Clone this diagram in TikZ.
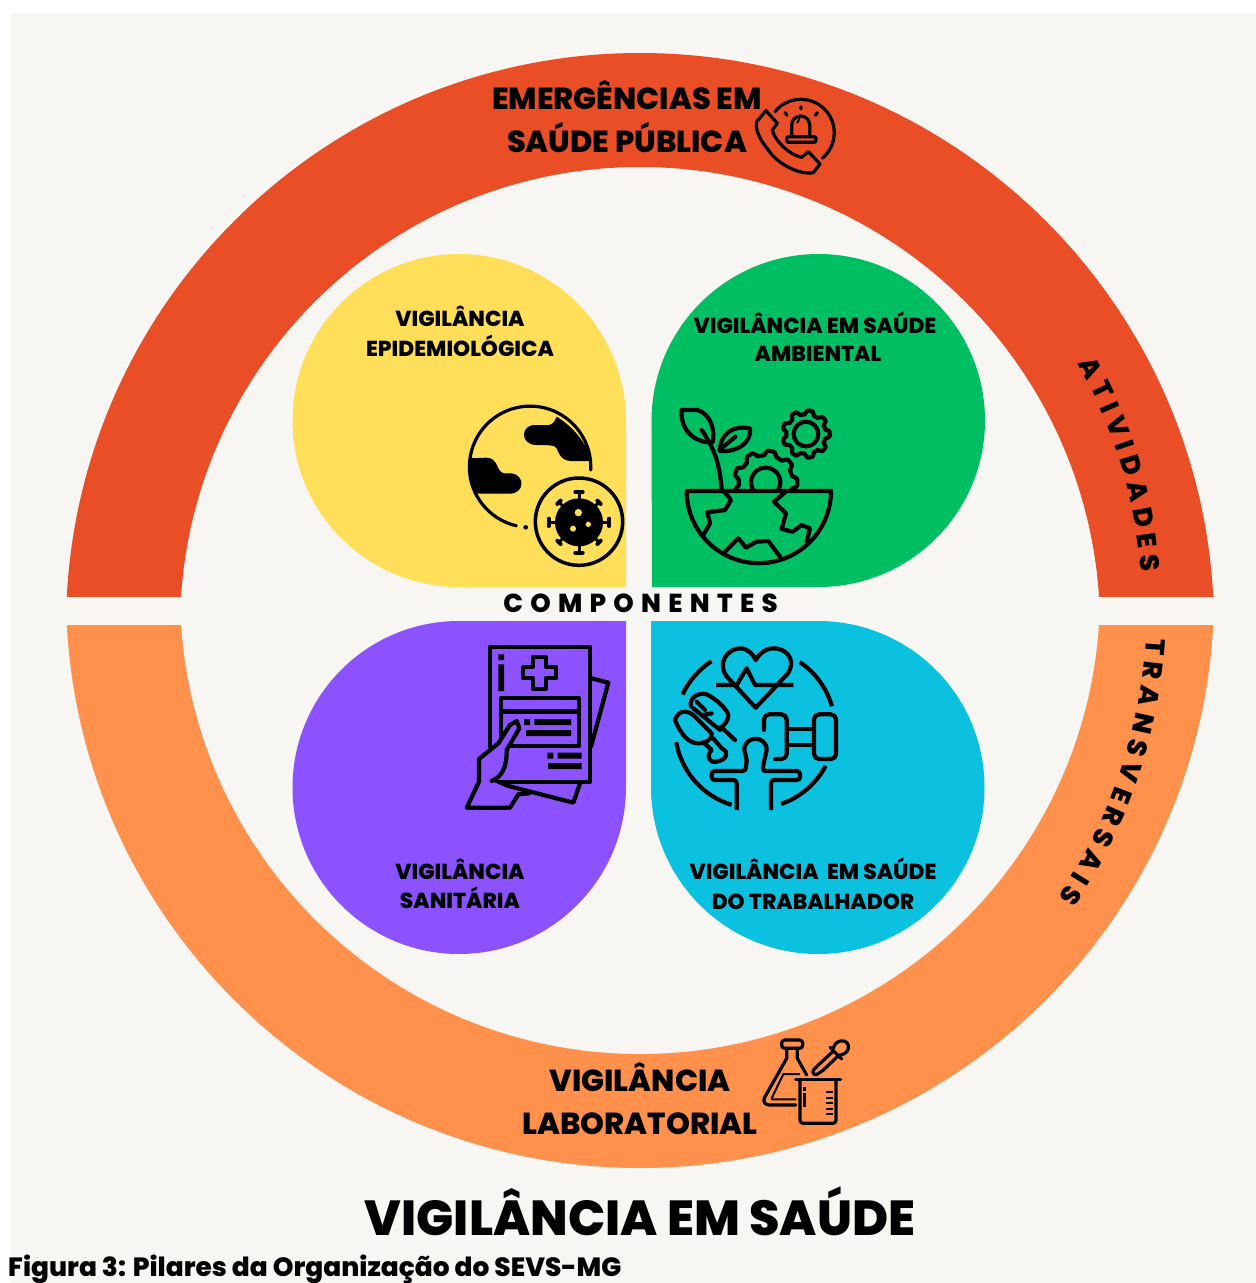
\documentclass[tikz,border=0pt]{standalone}
\usepackage{fontspec}
\setmainfont{Poppins}[BoldFont={Poppins ExtraBold}]
\usetikzlibrary{decorations.text}
\definecolor{panelbg}{HTML}{F8F6F2}
\definecolor{emergred}{HTML}{E94E26}
\definecolor{laborange}{HTML}{FF914D}
\definecolor{epiyellow}{HTML}{FFDE59}
\definecolor{ambgreen}{HTML}{00BF63}
\definecolor{sanpurple}{HTML}{8C52FF}
\definecolor{trabblue}{HTML}{0CC0DF}
\newfontfamily\spacedfont[LetterSpace=28,BoldFont={Poppins ExtraBold}]{Poppins}
\tikzset{
  ringlabel/.style={font=\fontsize{30.4}{30.4}\selectfont\bfseries, anchor=base},
  petallabel/.style={font=\fontsize{21.7}{21.7}\selectfont\bfseries, anchor=base},
  icon/.style={line width=3.2, line cap=round, line join=round, draw=black},
  iconbold/.style={line width=4.2, line cap=round, line join=round, draw=black},
  iconthin/.style={line width=2, line cap=round, line join=round, draw=black},
}
\newcommand{\gearwave}[5]{% x, y, radius, depth, teeth
  plot[domain=0:360, samples=217] ({#1+(#3+#4*max(-1,min(1,1.8*cos(#5*\x))))*cos(\x)}, {#2+(#3+#4*max(-1,min(1,1.8*cos(#5*\x))))*sin(\x)})}
\begin{document}
\begin{tikzpicture}[x=1pt,y=-1pt]
\useasboundingbox (0,0) rectangle (1256,1283);
\fill[panelbg] (11,13) rectangle (1256,1283);

% outer rings
\begin{scope}
\clip (0,0) rectangle (1256,596);
\fill[emergred, even odd rule] (640,627) circle (574) (640,627) circle (460);
\end{scope}
\begin{scope}
\clip (0,625) rectangle (1256,1283);
\fill[laborange, even odd rule] (640,594) circle (574) (640,594) circle (460);
\end{scope}

% petals
\fill[epiyellow] (626,587) -- (459,587) arc[start angle=90,end angle=270,radius=166.5] arc[start angle=-90,end angle=0,radius=167] -- cycle;
\fill[ambgreen] (652,587) -- (818.5,587) arc[start angle=90,end angle=-90,radius=166.5] arc[start angle=270,end angle=180,radius=167] -- cycle;
\fill[sanpurple] (626,621) -- (459,621) arc[start angle=-90,end angle=-270,radius=166.5] arc[start angle=90,end angle=0,radius=167] -- cycle;
\fill[trabblue] (651,621) -- (818,621) arc[start angle=-90,end angle=90,radius=166.5] arc[start angle=90,end angle=180,radius=167] -- cycle;

% texts
\node[ringlabel] (emerg1) at (627,109) {EMERGÊNCIAS EM};
\node[ringlabel] (emerg2) at (627,152) {SAÚDE PÚBLICA};
\node[ringlabel] (lab1) at (640,1091) {VIGILÂNCIA};
\node[ringlabel] (lab2) at (640,1134) {LABORATORIAL};
\node[petallabel] (epi1) at (460,326) {VIGILÂNCIA};
\node[petallabel] (epi2) at (460,356) {EPIDEMIOLÓGICA};
\node[petallabel] (amb1) at (815,333) {VIGILÂNCIA EM SAÚDE};
\node[petallabel] (amb2) at (818,361) {AMBIENTAL};
\node[petallabel] (san1) at (460,879) {VIGILÂNCIA};
\node[petallabel] (san2) at (460,908) {SANITÁRIA};
\node[petallabel] (trab1) at (813,879) {VIGILÂNCIA~~EM SAÚDE};
\node[petallabel] (trab2) at (813,909) {DO TRABALHADOR};
\node[font=\fontsize{26}{26}\selectfont\spacedfont\bfseries, anchor=base] (comp) at (640.5,612) {COMPONENTES};
\node[font=\fontsize{49.2}{49.2}\selectfont\bfseries, anchor=base] (title) at (640,1235) {VIGILÂNCIA EM SAÚDE};
\node[font=\fontsize{26.4}{26.4}\selectfont\bfseries, anchor=base west, inner sep=0pt] (caption) at (8,1276.5) {Figura 3: Pilares da Organização do SEVS-MG};

% curved texts
\path[postaction={decorate, decoration={text along path, text align=fit to path, text format delimiters={|}{|},
  text={|\fontsize{27}{27}\selectfont\bfseries|ATIVIDADES}}}] (640,610) ++(-29.4:502.5) arc[start angle=-29.4,end angle=-4.3,radius=502.5];
\path[postaction={decorate, decoration={text along path, text align=fit to path, text format delimiters={|}{|},
  text={|\fontsize{27}{27}\selectfont\bfseries|TRANSVERSAIS}}}] (640,610) ++(3.2:507) arc[start angle=3.2,end angle=34.5,radius=507];

% alarm phone
\begin{scope}[shift={(740,80)},scale=1/3]
\draw[icon] (105,95) arc[start angle=-141,end angle=50,radius=100];
\draw[icon] (78,92) -- (112,130) -- (97,150) .. controls (105,185) and (150,225) .. (185,232) -- (205,215) -- (240,252) -- (220,278) .. controls (180,285) and (115,255) .. (85,210) .. controls (60,180) and (45,150) .. (50,125) -- cycle;
\draw[icon] (155,165) -- (155,135) arc[start angle=180,end angle=360,radius=27] -- (209,165);
\draw[icon, rounded corners=2] (140,170) rectangle (228,187);
\draw[iconthin] (172,128) -- (178,116);
\draw[icon] (183,80) -- (183,86) (135,98) -- (141,106) (232,98) -- (226,106);
\end{scope}

% globe and virus
\begin{scope}[shift={(460,395)},scale=1/3]
\draw[icon] (392,225) arc[start angle=3,end angle=-180,radius=182];
\draw[icon] (28,215) arc[start angle=180,end angle=103,radius=182];
\fill (197,397) circle (7);
\fill (290,65) .. controls (340,95) and (385,150) .. (392,198) -- (330,198) .. controls (300,195) and (295,170) .. (290,160) .. controls (285,150) and (265,150) .. (230,150) .. controls (180,150) and (180,90) .. (225,90) -- (265,90) .. controls (280,90) and (285,75) .. (290,65) -- cycle;
\fill (28,190) -- (80,188) .. controls (110,190) and (110,215) .. (118,225) .. controls (125,238) and (140,235) .. (155,235) .. controls (195,240) and (195,295) .. (150,296) -- (52,296) .. controls (35,265) and (25,225) .. (28,190) -- cycle;
\draw[icon, line width=3.5] (357,380) circle (131);
\fill (357,382) circle (72);
\foreach \ang in {0,90,180,270} {
  \begin{scope}[shift={(357,382)},rotate=\ang]
  \draw[line width=3] (60,0) -- (88,0);
  \draw[line width=4, line cap=round] (91,-11) -- (91,11);
  \end{scope}
}
\foreach \ang in {45,135,225,315} {
  \begin{scope}[shift={(357,382)},rotate=\ang]
  \draw[line width=3] (60,0) -- (82,0);
  \draw[line width=4, line cap=round] (85,-7) -- (85,7);
  \end{scope}
}
\fill[epiyellow] (355,353) circle (11) (385,388) circle (8) (339,401) circle (9);
\end{scope}

% plant and gears
\begin{scope}[shift={(670,395)},scale=1/3]
\draw[iconbold] (50,288) -- (483,288) arc[start angle=0,end angle=180,radius=216.5] -- cycle;
\draw[iconbold] (165,292) -- (183,315) -- (165,345) -- (112,352) -- (120,385) -- (100,420);
\draw[iconbold] (165,470) -- (205,430) -- (228,458) -- (260,440) -- (295,438) -- (330,485);
\draw[iconbold] (345,292) -- (312,320) -- (348,355) -- (335,402) -- (368,410) -- (395,390) -- (420,400) -- (410,440);
\draw[iconbold] (155,285) .. controls (150,220) and (140,170) .. (95,105);
\draw[iconbold] (35,45) -- (80,45) .. controls (125,55) and (135,110) .. (128,142) .. controls (80,145) and (30,110) .. (35,45) -- cycle;
\draw[iconbold] (240,100) .. controls (190,90) and (150,115) .. (150,168) .. controls (200,172) and (245,145) .. (240,100) -- cycle;
\draw[iconbold] (148,165) -- (196,125);
\draw[iconbold] (408,117) circle (37);
\draw[iconbold] \gearwave{408}{117}{65}{6}{9} -- cycle;
\begin{scope}
\clip (150,150) rectangle (420,284);
\draw[iconbold] (287,262) circle (44);
\draw[iconbold] \gearwave{287}{262}{88}{7}{9} -- cycle;
\end{scope}
\end{scope}

% health file
\begin{scope}[shift={(455,635)},scale=1/3]
\draw[iconbold] (410,130) -- (460,143) -- (408,335);
\draw[iconbold] (375,445) -- (355,503) -- (110,440);
\draw[iconbold] (105,335) -- (105,35) -- (405,35) -- (405,440) -- (110,440);
\fill (130,58) rectangle (147,75) (130,88) rectangle (147,168);
\draw[iconbold] (235,65) -- (272,65) -- (272,95) -- (303,95) -- (303,130) -- (272,130) -- (272,162) -- (235,162) -- (235,130) -- (205,130) -- (205,95) -- (235,95) -- cycle;
\draw[iconbold] (138,190) rectangle (372,332);
\fill (138,222) rectangle (372,236);
\fill (207,252) rectangle (225,270) (238,252) rectangle (348,270) (213,285) rectangle (348,303);
\fill (277,353) rectangle (295,371) (308,353) rectangle (380,371) (279,384) rectangle (380,402);
\fill[sanpurple] (72,372) -- (130,325) -- (165,270) -- (185,258) -- (193,280) -- (155,345) -- (155,385) -- (110,438) -- (190,475) -- (165,518) -- (35,518) -- (72,440) -- cycle;
\draw[iconbold] (110,438) .. controls (140,425) and (155,400) .. (155,345) -- (193,280) -- (185,258) -- (165,270) -- (130,325) -- (72,372) -- (72,440) -- (35,518) -- (165,518) -- (190,478) -- (222,475);
\end{scope}

% worker health
\begin{scope}[shift={(665,635)},scale=1/3]
\draw[iconbold] (272,218) -- (190,130) .. controls (150,85) and (190,40) .. (225,40) .. controls (250,40) and (265,60) .. (272,75) .. controls (280,60) and (300,40) .. (325,40) .. controls (375,40) and (400,90) .. (355,130) -- cycle;
\draw[iconbold, line cap=butt] (153,150) -- (215,150) -- (245,100) -- (270,150) -- (385,150);
\draw[iconbold, line cap=butt] (270,280) ++(-123:240) arc[start angle=-123,end angle=-155,radius=240];
\draw[iconbold, line cap=butt] (270,280) ++(-56:240) arc[start angle=-56,end angle=-16,radius=240];
\draw[iconbold, line cap=butt] (270,280) ++(170:240) arc[start angle=170,end angle=107,radius=240];
\draw[iconbold, line cap=butt] (270,280) ++(71:240) arc[start angle=71,end angle=28,radius=240];
\draw[iconbold, rounded corners=5] (447,238) rectangle (513,372);
\draw[iconbold, line cap=butt] (370,282) -- (447,282) (370,330) -- (447,330);
\draw[iconbold, rounded corners=5] (297,285) -- (297,238) -- (365,238) -- (365,372) -- (330,372);
\draw[iconbold, rounded corners=3, line cap=butt] (215,525) -- (215,435) -- (140,435) -- (140,408) -- (242,408) -- (245,375);
\draw[iconbold] (245,375) -- (238,345) .. controls (238,300) and (305,300) .. (305,345) -- (298,375);
\draw[iconbold, rounded corners=3, line cap=butt] (298,375) -- (292,408) -- (405,408) -- (405,435) -- (318,435) -- (318,525);
\draw[iconbold] (78,215) .. controls (70,190) and (100,170) .. (125,178) .. controls (150,190) and (185,220) .. (190,240) .. controls (190,260) and (175,275) .. (160,280);
\draw[iconbold] (30,255) .. controls (40,225) and (65,225) .. (85,240) -- (140,295) .. controls (140,320) and (115,325) .. (100,325) .. controls (75,325) and (50,305) .. (30,255) -- cycle;
\draw[iconbold] (95,200) -- (120,225) (85,220) -- (165,285) (115,240) -- (140,235) (175,282) -- (210,315);
\draw[iconbold] (115,322) -- (140,345) .. controls (120,365) and (135,385) .. (155,380) .. controls (185,375) and (195,350) .. (170,340) -- (145,310);
\end{scope}

% lab glassware
\begin{scope}[shift={(750,1030)},scale=1/3]
\draw[icon, rounded corners=3] (95,30) rectangle (158,55);
\draw[icon] (110,55) -- (110,85) -- (45,200) .. controls (35,220) and (50,225) .. (60,225) -- (137,225);
\draw[icon] (142,55) -- (142,85) -- (170,135);
\draw[iconthin] (65,205) -- (100,132) -- (148,132) (65,208) -- (137,208);
\draw[icon, fill=laborange, rounded corners=3] (150,152) -- (150,280) -- (258,280) -- (258,152);
\draw[icon] (137,148) -- (272,148);
\fill (158,172) rectangle (168,182);
\draw[line width=2.5] (163,190) -- (163,232);
\draw[line width=2.2] (228,187) -- (248,187) (228,204) -- (248,204) (228,220) -- (248,220) (228,236) -- (248,236) (228,253) -- (248,253);
\draw[icon] (250,55) .. controls (255,25) and (300,25) .. (295,55) .. controls (293,70) and (275,75) .. (268,75);
\draw[icon] (240,52) -- (275,87);
\draw[icon] (248,65) -- (205,105) -- (190,120) .. controls (185,130) and (195,138) .. (203,132) -- (220,120) -- (262,80);
\end{scope}
\end{tikzpicture}
\end{document}
